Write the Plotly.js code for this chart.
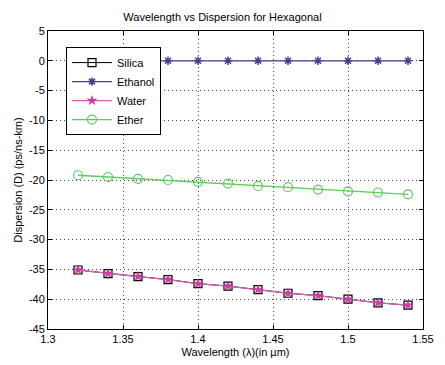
<!DOCTYPE html>
<html><head><meta charset="utf-8">
<script src="https://cdn.plot.ly/plotly-3.0.1.min.js"></script>
<style>body{margin:0;background:#fff}#g{width:445px;height:365px}</style>
</head><body><div id="g"></div>
<script>
const wavelength = [1.32,1.34,1.36,1.38,1.40,1.42,1.44,1.46,1.48,1.50,1.52,1.54];
const silica  = [-35.1,-35.7,-36.2,-36.7,-37.4,-37.8,-38.4,-39.0,-39.4,-40.0,-40.6,-41.0];
const ethanol = [0,0,0,0,0,0,0,0,0,0,0,0];
const water   = [-35.1,-35.7,-36.2,-36.7,-37.4,-37.8,-38.4,-39.0,-39.4,-40.0,-40.6,-41.0];
const ether   = [-19.2,-19.5,-19.8,-20.0,-20.3,-20.6,-21.0,-21.2,-21.6,-21.9,-22.1,-22.4];
const xTicks = [1.3,1.35,1.4,1.45,1.5,1.55];
const xTickLabels = ['1.3','1.35','1.4','1.45','1.5','1.55'];
const yTicks = [-45,-40,-35,-30,-25,-20,-15,-10,-5,0,5];
const yTickLabels = ['-45','-40','-35','-30','-25','-20','-15','-10','-5','0','5'];

const f = 'Liberation Sans, Arial, sans-serif';
const traces = [
  {name:'Silica', x:wavelength, y:silica, mode:'lines+markers',
   line:{color:'#000000',width:1}, marker:{symbol:'square-open',size:8,color:'#000000',line:{width:1.2}}},
  {name:'Ethanol', x:wavelength, y:ethanol, mode:'lines+markers',
   line:{color:'#4a3d96',width:1.3}, marker:{symbol:'asterisk-open',size:7,color:'#4a3d96',line:{width:1.5,color:'#4a3d96'}}},
  {name:'Water', x:wavelength, y:water, mode:'lines+markers',
   line:{color:'#d65fb0',width:1.3}, marker:{symbol:'star',size:7,color:'#d63cb0',line:{width:0.5,color:'#b0308f'}}},
  {name:'Ether', x:wavelength, y:ether, mode:'lines+markers',
   line:{color:'#5ccc5c',width:1.3}, marker:{symbol:'circle-open',size:9,color:'#5ccc5c',line:{width:1.2}}}
];
const ax = {showline:true, linecolor:'#000', linewidth:1, mirror:'ticks', ticks:'inside', ticklen:4,
  tickcolor:'#000', showgrid:true, gridcolor:'#444', griddash:'1px,3px', gridwidth:1, zeroline:false,
  tickfont:{family:f,size:11,color:'#000'}};
const layout = {
  width:445, height:365, margin:{l:48,r:22,t:31,b:36},
  paper_bgcolor:'#fff', plot_bgcolor:'#fff', showlegend:true,
  title:{text:'Wavelength vs Dispersion for Hexagonal', font:{family:f,size:11,color:'#000'}, x:0.5, xanchor:'center', y:0.952, yanchor:'middle'},
  xaxis:Object.assign({}, ax, {range:[1.3,1.55], tickvals:xTicks, ticktext:xTickLabels,
    title:{text:'Wavelength (λ)(in µm)', font:{family:f,size:11,color:'#000'}, standoff:4}}),
  yaxis:Object.assign({}, ax, {range:[-45,5], tickvals:yTicks, ticktext:yTickLabels,
    title:{text:'Dispersion (D) (ps/ns-km)', font:{family:f,size:11,color:'#000'}, standoff:4}}),
  legend:{x:0.048, y:0.946, xanchor:'left', yanchor:'top', bgcolor:'#fff', bordercolor:'#000', borderwidth:1,
    font:{family:f,size:11,color:'#000'}, tracegroupgap:0, itemwidth:40}
};
Plotly.newPlot('g', traces, layout, {displayModeBar:false, staticPlot:true});
</script></body></html>
